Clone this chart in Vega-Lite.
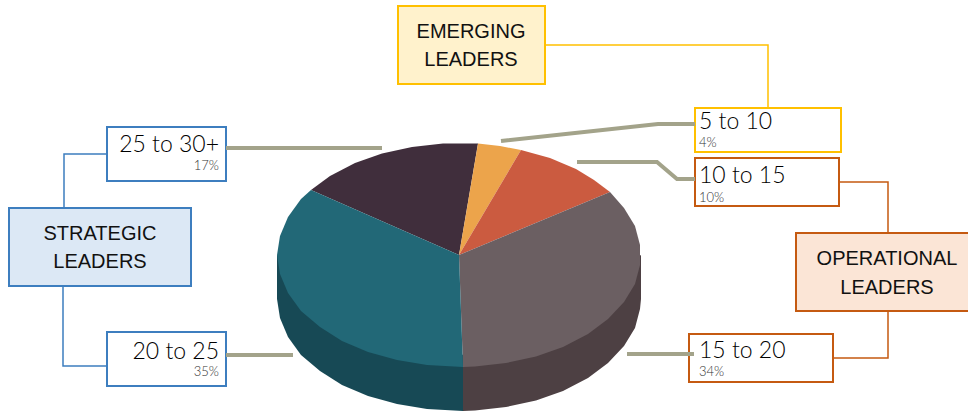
{"$schema":"https://vega.github.io/schema/vega-lite/v6.json","width":968,"height":413,"padding":0,"autosize":{"type":"none"},"background":"white","config":{"view":{"stroke":null}},
"datasets":{
"pie":[
{"face":"15 to 20 side","share":34,"n":1,"x":182,"y":0},{"face":"15 to 20 side","share":34,"n":2,"x":182,"y":-44},{"face":"15 to 20 side","share":34,"n":3,"x":181,"y":-54},{"face":"15 to 20 side","share":34,"n":4,"x":176,"y":-73},{"face":"15 to 20 side","share":34,"n":5,"x":165,"y":-91},{"face":"15 to 20 side","share":34,"n":6,"x":149,"y":-108},{"face":"15 to 20 side","share":34,"n":7,"x":129,"y":-123},{"face":"15 to 20 side","share":34,"n":8,"x":104,"y":-136},{"face":"15 to 20 side","share":34,"n":9,"x":77,"y":-145.5},{"face":"15 to 20 side","share":34,"n":10,"x":47,"y":-152},{"face":"15 to 20 side","share":34,"n":11,"x":16,"y":-155.6},{"face":"15 to 20 side","share":34,"n":12,"x":4,"y":-156},{"face":"15 to 20 side","share":34,"n":13,"x":4,"y":-100},{"face":"15 to 20 side","share":34,"n":14,"x":100,"y":-50},
{"face":"20 to 25 side","share":35,"n":1,"x":4,"y":-156},{"face":"20 to 25 side","share":35,"n":2,"x":-32,"y":-154},{"face":"20 to 25 side","share":35,"n":3,"x":-62,"y":-149},{"face":"20 to 25 side","share":35,"n":4,"x":-91,"y":-141},{"face":"20 to 25 side","share":35,"n":5,"x":-117,"y":-130},{"face":"20 to 25 side","share":35,"n":6,"x":-139,"y":-116},{"face":"20 to 25 side","share":35,"n":7,"x":-158,"y":-100},{"face":"20 to 25 side","share":35,"n":8,"x":-171,"y":-82},{"face":"20 to 25 side","share":35,"n":9,"x":-179,"y":-63},{"face":"20 to 25 side","share":35,"n":10,"x":-182,"y":-44},{"face":"20 to 25 side","share":35,"n":11,"x":-182,"y":0},{"face":"20 to 25 side","share":35,"n":12,"x":4,"y":-100},
{"face":"25 to 30+","share":17,"n":0,"x":0,"y":0},{"face":"25 to 30+","share":17,"n":1,"x":19,"y":111.4},{"face":"25 to 30+","share":17,"n":2,"x":-16,"y":111.6},{"face":"25 to 30+","share":17,"n":3,"x":-47,"y":108},{"face":"25 to 30+","share":17,"n":4,"x":-77,"y":101.5},{"face":"25 to 30+","share":17,"n":5,"x":-104,"y":92},{"face":"25 to 30+","share":17,"n":6,"x":-129,"y":79},{"face":"25 to 30+","share":17,"n":7,"x":-148,"y":65},
{"face":"5 to 10","share":4,"n":0,"x":0,"y":0},{"face":"5 to 10","share":4,"n":1,"x":19,"y":111.4},{"face":"5 to 10","share":4,"n":2,"x":41,"y":109},{"face":"5 to 10","share":4,"n":3,"x":62,"y":105},
{"face":"10 to 15","share":10,"n":0,"x":0,"y":0},{"face":"10 to 15","share":10,"n":1,"x":62,"y":105},{"face":"10 to 15","share":10,"n":2,"x":91,"y":97},{"face":"10 to 15","share":10,"n":3,"x":117,"y":86},{"face":"10 to 15","share":10,"n":4,"x":135,"y":75},{"face":"10 to 15","share":10,"n":5,"x":151,"y":63},
{"face":"15 to 20","share":34,"n":0,"x":0,"y":0},{"face":"15 to 20","share":34,"n":1,"x":151,"y":63},{"face":"15 to 20","share":34,"n":2,"x":165,"y":47},{"face":"15 to 20","share":34,"n":3,"x":176,"y":29},{"face":"15 to 20","share":34,"n":4,"x":181,"y":10},{"face":"15 to 20","share":34,"n":5,"x":181,"y":-10},{"face":"15 to 20","share":34,"n":6,"x":176,"y":-29},{"face":"15 to 20","share":34,"n":7,"x":165,"y":-47},{"face":"15 to 20","share":34,"n":8,"x":149,"y":-64},{"face":"15 to 20","share":34,"n":9,"x":129,"y":-79},{"face":"15 to 20","share":34,"n":10,"x":104,"y":-92},{"face":"15 to 20","share":34,"n":11,"x":77,"y":-101.5},{"face":"15 to 20","share":34,"n":12,"x":47,"y":-108},{"face":"15 to 20","share":34,"n":13,"x":16,"y":-111.6},{"face":"15 to 20","share":34,"n":14,"x":4,"y":-112},
{"face":"20 to 25","share":35,"n":0,"x":0,"y":0},{"face":"20 to 25","share":35,"n":1,"x":4,"y":-112},{"face":"20 to 25","share":35,"n":2,"x":-32,"y":-110},{"face":"20 to 25","share":35,"n":3,"x":-62,"y":-105},{"face":"20 to 25","share":35,"n":4,"x":-91,"y":-97},{"face":"20 to 25","share":35,"n":5,"x":-117,"y":-86},{"face":"20 to 25","share":35,"n":6,"x":-139,"y":-72},{"face":"20 to 25","share":35,"n":7,"x":-158,"y":-56},{"face":"20 to 25","share":35,"n":8,"x":-171,"y":-38},{"face":"20 to 25","share":35,"n":9,"x":-179,"y":-19},{"face":"20 to 25","share":35,"n":10,"x":-182,"y":0},{"face":"20 to 25","share":35,"n":11,"x":-179,"y":19},{"face":"20 to 25","share":35,"n":12,"x":-171,"y":38},{"face":"20 to 25","share":35,"n":13,"x":-158,"y":56},{"face":"20 to 25","share":35,"n":14,"x":-148,"y":65}
],
"boxes":[
{"name":"STRATEGIC LEADERS","tier":"strategic","role":"header","x":-450,"x2":-268,"y":47,"y2":-31},
{"name":"EMERGING LEADERS","tier":"emerging","role":"header","x":-61,"x2":86,"y":249,"y2":171},
{"name":"OPERATIONAL LEADERS","tier":"operational","role":"header","x":337,"x2":520,"y":22,"y2":-56},
{"name":"25 to 30+","tier":"strategic","role":"range","x":-352,"x2":-233,"y":128,"y2":74},
{"name":"20 to 25","tier":"strategic","role":"range","x":-352,"x2":-233,"y":-77,"y2":-131},
{"name":"5 to 10","tier":"emerging","role":"range","x":236,"x2":382,"y":147,"y2":103},
{"name":"10 to 15","tier":"operational","role":"range","x":236,"x2":380,"y":97,"y2":49},
{"name":"15 to 20","tier":"operational","role":"range","x":230,"x2":374,"y":-79,"y2":-127}
],
"links":[
{"id":"s1","tier":"strategic","n":1,"x":-352,"y":101},{"id":"s1","tier":"strategic","n":2,"x":-395,"y":101},{"id":"s1","tier":"strategic","n":3,"x":-395,"y":47},
{"id":"s2","tier":"strategic","n":1,"x":-396,"y":-31},{"id":"s2","tier":"strategic","n":2,"x":-396,"y":-111},{"id":"s2","tier":"strategic","n":3,"x":-352,"y":-111},
{"id":"e1","tier":"emerging","n":1,"x":86,"y":210},{"id":"e1","tier":"emerging","n":2,"x":309,"y":210},{"id":"e1","tier":"emerging","n":3,"x":309,"y":147},
{"id":"o1","tier":"operational","n":1,"x":380,"y":73},{"id":"o1","tier":"operational","n":2,"x":429,"y":73},{"id":"o1","tier":"operational","n":3,"x":429,"y":22},
{"id":"o2","tier":"operational","n":1,"x":429,"y":-56},{"id":"o2","tier":"operational","n":2,"x":429,"y":-103},{"id":"o2","tier":"operational","n":3,"x":374,"y":-103}
],
"leaders":[
{"id":"25 to 30+","n":1,"x":-233,"y":107},{"id":"25 to 30+","n":2,"x":-77,"y":107},
{"id":"20 to 25","n":1,"x":-233,"y":-100},{"id":"20 to 25","n":2,"x":-166,"y":-100},
{"id":"5 to 10","n":1,"x":42,"y":114},{"id":"5 to 10","n":2,"x":199,"y":131},{"id":"5 to 10","n":3,"x":236,"y":131},
{"id":"10 to 15","n":1,"x":118,"y":93},{"id":"10 to 15","n":2,"x":198,"y":93},{"id":"10 to 15","n":3,"x":218,"y":76},{"id":"10 to 15","n":4,"x":236,"y":76},
{"id":"15 to 20","n":1,"x":168,"y":-99},{"id":"15 to 20","n":2,"x":235,"y":-99}
],
"labels":[
{"t":"STRATEGIC","kind":"header","x":-359,"y":21},{"t":"LEADERS","kind":"header","x":-359,"y":-7},
{"t":"EMERGING","kind":"header","x":12,"y":223},{"t":"LEADERS","kind":"header","x":12,"y":195.5},
{"t":"OPERATIONAL","kind":"header","x":428,"y":-3.5},{"t":"LEADERS","kind":"header","x":428,"y":-32.5},
{"t":"25 to 30+","kind":"rangeR","x":-240,"y":110.5},{"t":"17%","kind":"pctR","x":-240,"y":89},
{"t":"20 to 25","kind":"rangeR","x":-240,"y":-97},{"t":"35%","kind":"pctR","x":-240,"y":-117},
{"t":"5 to 10","kind":"rangeL","x":240,"y":133.5},{"t":"4%","kind":"pctL","x":240,"y":112},
{"t":"10 to 15","kind":"rangeL","x":240,"y":79.5},{"t":"10%","kind":"pctL","x":240,"y":57.5},
{"t":"15 to 20","kind":"rangeL","x":240,"y":-96},{"t":"34%","kind":"pctL","x":240,"y":-117}
]},
"encoding":{
"x":{"field":"x","type":"quantitative","axis":null,"scale":{"domain":[-459,509],"nice":false,"zero":false}},
"y":{"field":"y","type":"quantitative","axis":null,"scale":{"domain":[-158,255],"nice":false,"zero":false}}},
"layer":[
{"data":{"name":"pie"},"mark":{"type":"line","filled":true,"strokeWidth":0},"encoding":{"order":{"field":"n","type":"quantitative"},"color":{"field":"face","type":"nominal","legend":null,"sort":null,"scale":{"domain":["15 to 20 side","20 to 25 side","25 to 30+","5 to 10","10 to 15","15 to 20","20 to 25"],"range":["#4d4043","#174955","#402e3c","#eca44b","#cb5b40","#6b5f62","#226877"]}}}},
{"data":{"name":"links"},"mark":{"type":"line","strokeWidth":1.5},"encoding":{"order":{"field":"n","type":"quantitative"},"detail":{"field":"id"},"stroke":{"field":"tier","type":"nominal","legend":null,"scale":{"domain":["strategic","emerging","operational"],"range":["#3d7ebf","#ffc000","#c55a11"]}}}},
{"data":{"name":"boxes"},"transform":[{"filter":"datum.role==='header'"}],"mark":{"type":"rect","strokeWidth":2,"clip":true},"encoding":{"x2":{"field":"x2"},"y2":{"field":"y2"},"stroke":{"field":"tier","type":"nominal","legend":null},"fill":{"field":"tier","type":"nominal","legend":null,"scale":{"domain":["strategic","emerging","operational"],"range":["#dce8f5","#fff2cc","#fbe5d6"]}}}},
{"data":{"name":"boxes"},"transform":[{"filter":"datum.role==='range'"}],"mark":{"type":"rect","strokeWidth":2,"fill":"white"},"encoding":{"x2":{"field":"x2"},"y2":{"field":"y2"},"stroke":{"field":"tier","type":"nominal","legend":null}}},
{"data":{"name":"leaders"},"mark":{"type":"line","strokeWidth":4,"color":"#a3a38a"},"encoding":{"order":{"field":"n","type":"quantitative"},"detail":{"field":"id"}}},
{"data":{"name":"labels"},"transform":[{"filter":"datum.kind==='header'"}],"mark":{"type":"text","font":"Liberation Sans","fontSize":20,"align":"center","baseline":"middle","color":"#111111"},"encoding":{"text":{"field":"t"}}},
{"data":{"name":"labels"},"transform":[{"filter":"datum.kind==='rangeR'"}],"mark":{"type":"text","font":"Lato","fontSize":23,"fontWeight":300,"align":"right","baseline":"middle","color":"#000000"},"encoding":{"text":{"field":"t"}}},
{"data":{"name":"labels"},"transform":[{"filter":"datum.kind==='rangeL'"}],"mark":{"type":"text","font":"Lato","fontSize":23,"fontWeight":300,"align":"left","baseline":"middle","color":"#000000"},"encoding":{"text":{"field":"t"}}},
{"data":{"name":"labels"},"transform":[{"filter":"datum.kind==='pctR'"}],"mark":{"type":"text","font":"Lato","fontSize":13,"fontWeight":300,"align":"right","baseline":"middle","color":"#333333"},"encoding":{"text":{"field":"t"}}},
{"data":{"name":"labels"},"transform":[{"filter":"datum.kind==='pctL'"}],"mark":{"type":"text","font":"Lato","fontSize":13,"fontWeight":300,"align":"left","baseline":"middle","color":"#333333"},"encoding":{"text":{"field":"t"}}}
]}
